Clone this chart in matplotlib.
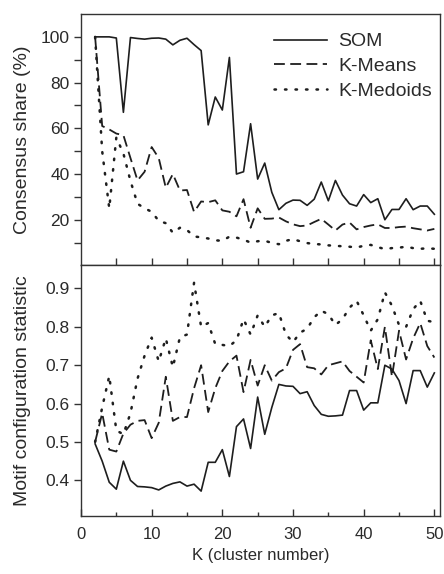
import matplotlib
matplotlib.use("Agg")
import matplotlib.pyplot as plt
import numpy as np

plt.rcParams['font.family'] = ['Liberation Sans', 'DejaVu Sans']

k = np.arange(2, 51)

# top panel: consensus share (%)
som_share = [100, 100, 100, 99.5, 67, 99.7, 99.3, 99, 99.4, 99.5, 99, 96.5, 98.5, 99.4, 96.6, 94,
             61.5, 73.7, 68, 91, 40, 41, 62, 37.8, 44.8, 32, 24.4, 27.2, 28.6, 28.5, 26.3, 29,
             36.5, 28.3, 37.2, 30.8, 27, 26, 31, 27.5, 29.2, 20, 24.5, 24.5, 29.2, 24.4, 26, 26, 22.4]
kmeans_share = [100, 61, 59.5, 57.7, 57, 47, 37.2, 41, 51.8, 47, 34, 40, 32.8, 33, 23.4, 28,
                27.7, 28.5, 24.1, 23.5, 21.5, 29, 16.5, 25, 20.4, 20.5, 21, 19.3, 18, 17.2, 17.5, 19,
                20.4, 17.9, 15.3, 17.9, 18.8, 15.8, 16.8, 17.5, 18, 16.4, 16.4, 16.8, 17, 16.3, 15.8, 15.3, 16]
kmedoids_share = [100, 50, 25, 56, 49, 37, 27, 25, 23.5, 19.5, 18.5, 14.3, 16.5, 15.5, 12.7, 12.3,
                  11.8, 11, 10.8, 12.6, 12.2, 11.3, 10, 10.6, 10.8, 9.9, 9.3, 10.8, 11.5, 10.6, 9.8, 9.4,
                  9.2, 8.8, 8.6, 8.4, 8.2, 7.9, 8.6, 9.0, 8.0, 7.2, 7.6, 7.8, 8.2, 7.6, 7.3, 7.5, 7.3]

# bottom panel: motif configuration statistic
som_motif = [0.495, 0.45, 0.395, 0.377, 0.45, 0.40, 0.384, 0.383, 0.381, 0.375, 0.385, 0.392, 0.396,
             0.385, 0.39, 0.372, 0.447, 0.447, 0.48, 0.41, 0.54, 0.56, 0.483, 0.617, 0.52, 0.59, 0.65,
             0.646, 0.645, 0.626, 0.631, 0.595, 0.572, 0.567, 0.568, 0.57, 0.634, 0.634, 0.583, 0.602,
             0.602, 0.70, 0.69, 0.66, 0.60, 0.686, 0.686, 0.643, 0.68]
kmeans_motif = [0.50, 0.575, 0.48, 0.475, 0.522, 0.545, 0.555, 0.557, 0.51, 0.55, 0.67, 0.555, 0.565,
                0.565, 0.64, 0.70, 0.578, 0.64, 0.685, 0.71, 0.725, 0.63, 0.714, 0.647, 0.70, 0.66, 0.682,
                0.692, 0.74, 0.755, 0.695, 0.692, 0.676, 0.70, 0.705, 0.71, 0.685, 0.67, 0.655, 0.765,
                0.69, 0.80, 0.67, 0.79, 0.715, 0.77, 0.81, 0.75, 0.72]
kmedoids_motif = [0.50, 0.59, 0.672, 0.53, 0.52, 0.575, 0.665, 0.725, 0.772, 0.71, 0.77, 0.695, 0.773,
                  0.78, 0.915, 0.80, 0.81, 0.755, 0.753, 0.75, 0.765, 0.82, 0.78, 0.83, 0.80, 0.83, 0.836,
                  0.78, 0.76, 0.785, 0.795, 0.825, 0.842, 0.833, 0.805, 0.82, 0.85, 0.868, 0.83, 0.79,
                  0.82, 0.89, 0.855, 0.805, 0.80, 0.846, 0.868, 0.816, 0.812]

labels = ["SOM", "K-Means", "K-Medoids"]
ink = '#1e1e1e'
text_col = '#2a2a2a'
styles = ['-', (0, (6, 3)), (0, (0.6, 3.6))]
widths = [1.2, 1.3, 1.8]

fig = plt.figure(figsize=(4.44, 5.74), dpi=100)
ax1 = fig.add_axes([0.1824, 0.5375, 0.8086, 0.4381])
ax2 = fig.add_axes([0.1824, 0.1010, 0.8086, 0.4365])

for ax, series in [(ax1, [som_share, kmeans_share, kmedoids_share]),
                   (ax2, [som_motif, kmeans_motif, kmedoids_motif])]:
    for vals, ls, lw, lab in zip(series, styles, widths, labels):
        line, = ax.plot(k, vals, color=ink, linestyle=ls, linewidth=lw, label=lab)
        if lw > 1.5:
            line.set_dash_capstyle('round')
    for s in ax.spines.values():
        s.set_linewidth(1.0)
        s.set_color('#333333')
    ax.set_xlim(0, 50.8)
    ax.tick_params(axis='x', direction='in', length=5, width=1.0, color='#333333',
                   labelsize=12, labelcolor=text_col, pad=8)
    ax.tick_params(axis='y', direction='out', length=5, width=1.0, color='#333333',
                   labelsize=12.5, labelcolor=text_col, pad=3)

ax1.set_ylim(0, 110)
ax1.set_yticks([20, 40, 60, 80, 100])
ax1.set_yticks([10, 30, 50, 70, 90], minor=True)
ax1.tick_params(axis='y', which='minor', direction='out', length=5, width=1.0, color='#333333')
ax1.set_xticks(np.arange(5, 51, 5))
ax1.tick_params(axis='x', labelbottom=False)
ax1.set_ylabel('Consensus share (%)', fontsize=14, color=text_col)
leg = ax1.legend(loc='upper right', bbox_to_anchor=(1.0, 0.956), borderaxespad=0.0,
                 frameon=False, fontsize=14, handlelength=2.75, handletextpad=0.57,
                 labelspacing=0.37)
for t in leg.get_texts():
    t.set_color(text_col)

ax2.set_ylim(0.307, 0.96)
ax2.set_yticks([0.4, 0.5, 0.6, 0.7, 0.8, 0.9])
ax2.set_yticklabels(['0.4', '0.5', '0.6', '0.7', '0.8', '0.9'])
ax2.set_xticks(np.arange(0, 51, 10))
ax2.set_xticks(np.arange(5, 51, 10), minor=True)
ax2.tick_params(axis='x', which='minor', direction='in', length=3, width=1.0, color='#333333')
ax2.set_xlabel('K (cluster number)', fontsize=12, color=text_col, labelpad=4)
ax2.set_ylabel('Motif configuration statistic', fontsize=14, color=text_col)

ax1.yaxis.set_label_coords(-0.14, 0.5)
ax2.yaxis.set_label_coords(-0.14, 0.5)
plt.savefig('out.png', dpi=100)
